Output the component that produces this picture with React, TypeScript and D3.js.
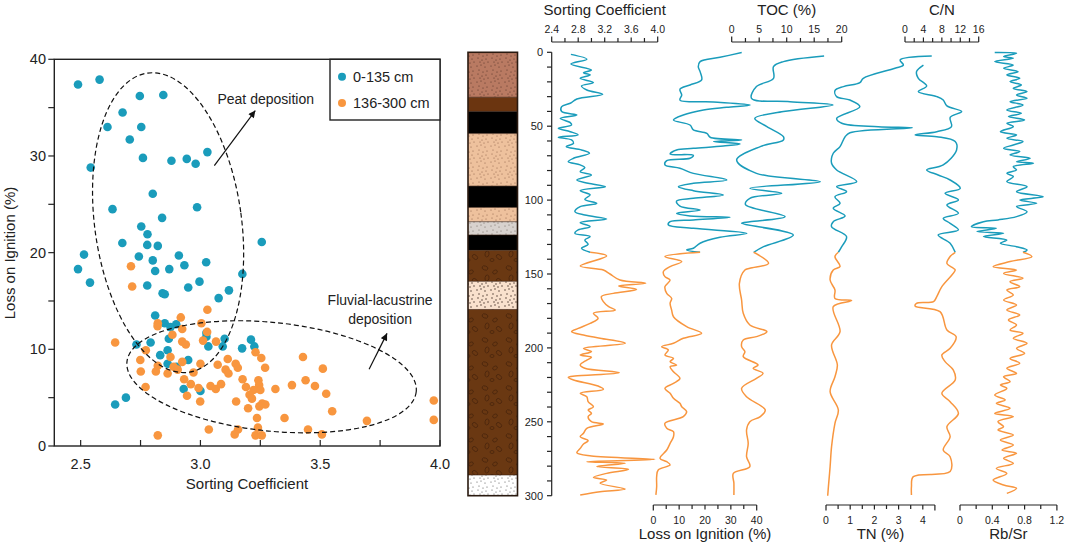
import React from 'react';
import * as d3 from 'd3';

type Pt = [number, number];

// scatter: [sorting coefficient, loss on ignition %]
const upperSamples: Pt[] = [
  [2.489, 37.4], [2.579, 37.9], [2.747, 36.2], [2.845, 36.3], [2.675, 34.5], [2.612, 33.0],
  [2.753, 33.0], [2.705, 31.7], [2.542, 28.8], [2.76, 29.8], [2.879, 29.5], [2.943, 29.7],
  [2.98, 29.2], [3.029, 30.4], [2.801, 26.1], [2.633, 24.5], [2.986, 24.7], [2.84, 23.6],
  [2.753, 22.7], [2.779, 21.9], [3.256, 21.1], [2.674, 21.0], [2.778, 20.8], [2.822, 20.7],
  [2.514, 19.8], [2.743, 19.6], [2.91, 19.7], [2.801, 19.2], [3.024, 19.0], [2.933, 18.7],
  [2.489, 18.3], [2.87, 18.3], [2.811, 18.1], [3.175, 17.8], [2.539, 16.9], [2.996, 17.0],
  [2.778, 16.6], [2.949, 16.4], [3.119, 16.1], [2.842, 15.8], [2.851, 15.7], [3.076, 15.3],
  [2.811, 13.5], [2.851, 12.7], [2.899, 12.6], [2.875, 12.3], [3.025, 11.7], [3.025, 11.3],
  [2.868, 11.1], [3.101, 11.1], [3.211, 11.0], [2.792, 10.7], [2.733, 10.5], [3.033, 10.3],
  [3.093, 10.3], [3.225, 10.3], [3.174, 10.1], [2.863, 9.9], [2.832, 9.4], [2.863, 8.5],
  [2.9, 8.2], [2.949, 8.9], [2.93, 5.9], [3.0, 5.7], [2.644, 4.3], [2.689, 5.0],
];

const lowerSamples: Pt[] = [
  [2.71, 18.6], [2.715, 16.5], [3.029, 14.1], [2.918, 13.3], [2.822, 12.7], [2.821, 12.4],
  [3.004, 12.7], [2.924, 12.1], [3.028, 11.8], [2.883, 11.5], [3.011, 10.9], [3.065, 10.8],
  [2.924, 10.8], [2.939, 10.5], [2.644, 10.7], [2.772, 9.9], [3.23, 9.7], [2.875, 9.2],
  [2.749, 8.9], [3.114, 9.0], [3.254, 9.1], [3.428, 9.2], [2.924, 8.7], [2.822, 8.3],
  [3.0, 8.5], [3.072, 8.4], [3.147, 8.5], [3.156, 8.1], [3.27, 8.1], [3.511, 8.0],
  [2.888, 8.2], [2.905, 7.9], [2.751, 7.7], [2.814, 7.7], [2.863, 7.5], [2.971, 7.6],
  [3.105, 7.9], [3.117, 7.5], [2.932, 6.9], [3.176, 6.9], [3.242, 6.8], [3.439, 6.8],
  [2.96, 6.4], [3.19, 6.1], [3.245, 6.3], [3.042, 6.2], [3.064, 5.9], [3.086, 6.4],
  [3.222, 5.8], [3.25, 5.8], [3.313, 5.9], [3.382, 6.3], [3.478, 6.2], [3.525, 5.4],
  [2.771, 6.1], [2.992, 6.0], [2.944, 5.2], [3.205, 5.3], [3.215, 4.9], [2.999, 4.6],
  [3.149, 4.6], [3.258, 4.4], [3.271, 4.3], [3.246, 4.1], [3.199, 3.9], [3.55, 3.6],
  [3.236, 2.9], [3.351, 2.9], [3.695, 2.6], [3.974, 4.7], [3.974, 2.7], [3.24, 1.9],
  [3.157, 1.7], [3.035, 1.7], [3.449, 1.7], [3.143, 1.2], [3.23, 1.1], [3.256, 1.1],
  [3.507, 1.2], [2.822, 1.1],
];

const scatterXTicks = [2.5, 3.0, 3.5, 4.0];
const scatterYTicks = [0, 10, 20, 30, 40];
const legendLabels = ['0-135 cm', '136-300 cm'];

// depth profiles: [depth cm, value]
const sortingProfile: Pt[] = [
  [1.4, 2.69], [4.7, 2.93], [7.9, 2.69], [12.0, 3.0], [13.8, 2.88], [15.3, 2.98], [17.6, 2.83],
  [20.5, 3.03], [22.8, 2.85], [25.5, 2.93], [28.4, 3.17], [31.6, 2.78], [34.5, 2.68], [36.8, 2.55],
  [40.1, 2.55], [42.4, 2.78], [44.7, 2.53], [47.6, 2.68], [49.2, 2.7], [51.4, 2.5], [53.7, 2.68],
  [55.9, 2.8], [57.5, 2.5], [59.3, 2.7], [61.6, 2.73], [63.8, 2.62], [66.1, 2.85], [68.3, 2.97],
  [71.7, 2.73], [74.0, 2.65], [76.2, 2.83], [78.0, 2.9], [80.7, 2.83], [83.0, 3.0], [86.4, 2.78],
  [88.6, 2.95], [90.9, 3.21], [93.6, 2.83], [96.5, 2.98], [99.5, 2.9], [102.2, 3.08], [104.4, 2.83],
  [107.8, 2.75], [110.1, 2.9], [112.8, 3.23], [115.2, 2.83], [118.0, 2.98], [120.2, 2.8],
  [122.5, 2.75], [124.7, 2.98], [127.0, 2.9], [129.9, 2.95], [132.6, 2.85], [135.3, 2.98],
  [137.8, 3.23], [144.6, 2.83], [147.3, 3.18], [150.0, 3.28], [154.1, 3.43], [156.3, 3.82],
  [158.1, 3.41], [160.4, 3.68], [163.1, 3.33], [165.3, 3.15], [168.7, 3.18], [172.1, 3.26],
  [174.4, 3.36], [176.6, 3.03], [180.0, 3.1], [183.4, 2.98], [186.8, 2.8], [189.0, 2.7],
  [191.3, 2.88], [193.5, 3.13], [196.9, 3.51], [200.3, 2.88], [202.5, 3.0], [204.8, 2.83],
  [206.4, 3.0], [208.2, 2.93], [211.6, 2.83], [213.8, 2.9], [216.8, 3.42], [219.0, 2.75],
  [219.9, 2.65], [221.7, 2.73], [225.8, 3.1], [228.0, 3.18], [230.7, 2.83], [233.0, 2.93],
  [236.4, 2.95], [239.8, 3.03], [242.0, 2.95], [244.3, 3.0], [246.5, 2.95], [249.9, 3.0],
  [251.5, 3.18], [254.4, 2.93], [257.8, 2.88], [260.1, 2.83], [262.8, 2.95], [265.0, 2.88],
  [268.0, 2.83], [270.9, 2.78], [273.1, 3.0], [275.4, 3.96], [277.0, 2.93], [278.1, 3.51],
  [280.3, 3.08], [282.1, 3.56], [284.9, 3.23], [287.6, 3.03], [289.4, 3.23], [291.6, 3.13],
  [295.5, 3.51], [297.3, 3.13], [299.5, 2.83],
];

const loiProfile: Pt[] = [
  [0.2, 34.2], [3.4, 25.8], [6.3, 18.1], [9.7, 17.4], [13.1, 18.1], [18.7, 18.7], [22.1, 14.2],
  [25.0, 10.3], [28.9, 11.0], [32.3, 10.3], [33.6, 23.3], [35.6, 37.5], [37.2, 28.4], [39.0, 19.4],
  [42.4, 11.6], [45.8, 7.8], [49.2, 14.2], [52.5, 15.5], [54.8, 20.7], [57.5, 22.0], [59.3, 34.2],
  [60.4, 23.3], [62.0, 33.6], [63.4, 27.1], [65.0, 15.5], [66.1, 9.0], [68.8, 6.5], [69.7, 15.5],
  [71.7, 14.2], [73.3, 5.2], [76.2, 4.5], [78.5, 10.3], [81.9, 15.5], [86.4, 28.4], [88.6, 15.5],
  [90.9, 9.7], [93.6, 15.5], [96.5, 27.1], [98.8, 15.5], [100.6, 9.0], [104.0, 10.3], [106.7, 18.1],
  [108.9, 9.0], [110.7, 14.2], [111.6, 29.7], [113.4, 15.5], [114.6, 6.5], [116.8, 5.8],
  [119.1, 15.5], [122.5, 36.2], [125.2, 25.8], [129.2, 18.1], [132.6, 15.5], [133.7, 12.9],
  [135.3, 18.1], [138.2, 4.5], [141.6, 11.0], [145.0, 6.5], [148.4, 3.9], [151.8, 4.5],
  [154.1, 6.5], [158.6, 4.5], [163.1, 5.2], [166.5, 7.1], [169.8, 6.5], [174.4, 7.1], [178.9, 7.8],
  [185.6, 12.9], [190.1, 18.7], [193.5, 11.6], [196.9, 7.8], [199.2, 3.2], [201.4, 5.8],
  [204.8, 4.5], [207.1, 7.8], [209.3, 6.5], [211.6, 9.0], [212.7, 6.5], [216.1, 7.8], [220.6, 10.3],
  [224.0, 7.8], [227.4, 4.5], [230.7, 6.5], [234.1, 7.8], [237.5, 10.3], [239.8, 11.0],
  [243.1, 12.9], [246.5, 11.6], [251.0, 4.5], [254.4, 5.2], [256.7, 7.8], [260.1, 7.8],
  [264.6, 6.5], [269.1, 5.2], [274.7, 2.6], [277.0, 5.2], [279.2, 6.5], [282.6, 1.9], [287.1, 1.3],
  [293.9, 1.3], [299.5, 1.0],
];

const tocProfile: Pt[] = [
  [2.5, 16.8], [6.3, 9.4], [9.7, 7.6], [17.6, 7.6], [23.2, 4.5], [31.1, 3.6], [33.4, 10.6],
  [35.6, 18.4], [40.1, 9.4], [44.7, 4.2], [50.3, 6.4], [57.1, 9.4], [59.3, 9.4], [63.8, 5.2],
  [72.8, 0.9], [81.9, 4.5], [87.5, 16.1], [92.0, 3.3], [95.4, 9.1], [98.8, 3.3], [103.0, 2.5],
  [111.2, 9.7], [114.6, 3.3], [115.7, 1.8], [123.6, 11.2], [131.5, 5.8], [135.3, 4.0],
  [142.8, 6.7], [146.1, 3.3], [147.3, 2.4], [156.3, 1.4], [167.6, 1.8], [176.6, 2.1],
  [184.5, 3.3], [189.0, 6.4], [192.4, 4.5], [194.7, 2.1], [199.2, 1.8], [202.5, 2.4],
  [205.9, 2.1], [211.6, 4.8], [213.8, 3.9], [217.2, 5.7], [220.6, 4.5], [227.4, 1.8],
  [233.0, 2.7], [242.0, 6.1], [246.5, 5.2], [249.9, 3.3], [255.5, 2.7], [264.6, 3.0],
  [273.6, 2.7], [280.3, 3.3], [284.9, 0.3], [291.6, 0.4], [299.5, 0.4],
];

const tnProfile: Pt[] = [
  [2.5, 4.37], [5.2, 3.06], [8.6, 3.2], [10.8, 2.85], [17.6, 1.54], [20.5, 1.4], [23.2, 0.72],
  [25.9, 0.37], [30.0, 0.44], [32.3, 0.99], [36.8, 1.4], [44.7, 0.44], [48.0, 0.65], [50.3, 2.16],
  [51.0, 3.57], [54.4, 0.99], [57.1, 0.79], [63.8, 0.58], [68.3, 0.3], [75.1, 0.23], [79.6, 0.44],
  [87.5, 1.27], [90.9, 0.44], [94.3, 0.85], [97.7, 0.37], [102.2, 0.58], [105.5, 0.3],
  [110.7, 0.79], [114.6, 0.3], [118.0, 0.23], [124.7, 0.85], [131.5, 0.65], [135.3, 0.51],
  [138.2, 0.37], [145.0, 0.58], [147.3, 0.3], [154.1, 0.17], [160.8, 0.37], [166.5, 0.37],
  [168.0, 1.06], [172.1, 0.3], [189.0, 0.58], [198.0, 0.23], [211.6, 0.47], [219.5, 0.37],
  [229.6, 0.17], [242.0, 0.51], [251.0, 0.37], [266.8, 0.23], [280.3, 0.17], [293.9, 0.1],
  [300.0, 0.07],
];

const cnProfile: Pt[] = [
  [8.6, 4.0], [13.1, 2.5], [17.6, 2.9], [22.8, 4.7], [26.6, 2.9], [30.0, 6.9], [32.3, 8.3],
  [36.3, 9.1], [40.1, 12.3], [44.0, 9.8], [50.3, 10.1], [53.7, 6.9], [55.9, 2.2], [57.1, 6.9],
  [60.4, 10.9], [66.1, 11.2], [76.2, 8.3], [79.6, 4.7], [83.0, 7.2], [86.4, 9.8], [92.0, 12.0],
  [95.4, 8.7], [99.9, 11.6], [103.3, 9.1], [108.9, 11.6], [112.3, 8.3], [115.7, 9.8],
  [120.2, 11.6], [123.6, 7.2], [129.2, 9.8], [135.3, 10.9], [138.2, 9.8], [142.8, 9.1],
  [146.1, 10.5], [147.3, 10.9], [158.6, 8.0], [165.3, 6.9], [168.7, 6.2], [169.8, 2.5],
  [171.7, 2.2], [175.5, 7.6], [187.9, 9.1], [192.4, 11.1], [200.3, 9.8], [204.8, 8.0],
  [209.3, 8.7], [215.0, 10.5], [221.7, 10.9], [230.7, 8.0], [236.4, 9.8], [244.3, 11.6],
  [253.3, 9.1], [260.1, 9.8], [269.1, 8.3], [273.6, 9.8], [283.7, 9.8], [287.1, 1.8],
  [293.9, 1.4], [299.5, 1.4],
];

const rbsrProfile: Pt[] = [
  [0.2, 0.43], [0.7, 0.7], [2.9, 0.54], [4.1, 0.66], [6.3, 0.43], [8.6, 0.66], [10.8, 0.54],
  [13.1, 0.72], [15.3, 0.58], [17.6, 0.74], [19.8, 0.62], [22.1, 0.76], [24.4, 0.66], [26.6, 0.83],
  [28.9, 0.7], [31.1, 0.83], [33.4, 0.62], [35.6, 0.78], [39.0, 0.58], [41.3, 0.76], [43.5, 0.6],
  [45.8, 0.8], [48.0, 0.58], [50.3, 0.66], [53.7, 0.5], [55.9, 0.7], [58.2, 0.58], [60.4, 0.78],
  [62.7, 0.66], [65.0, 0.54], [67.2, 0.74], [69.5, 0.62], [71.7, 0.87], [74.0, 0.7], [75.1, 0.91],
  [77.4, 0.66], [79.6, 0.7], [81.9, 0.58], [84.1, 0.66], [87.5, 0.58], [90.9, 0.83], [94.3, 0.7],
  [97.7, 1.03], [99.9, 0.74], [102.2, 0.95], [104.4, 0.7], [107.8, 0.83], [111.2, 0.7],
  [113.4, 0.47], [114.6, 0.29], [118.0, 0.14], [119.1, 0.45], [121.3, 0.21], [122.5, 0.54],
  [124.7, 0.29], [127.0, 0.58], [129.2, 0.5], [131.5, 0.7], [133.7, 0.83], [135.3, 0.78],
  [138.2, 0.89], [141.6, 0.62], [145.0, 0.41], [147.3, 0.7], [149.6, 0.54], [152.9, 0.78],
  [155.2, 0.62], [158.6, 0.74], [160.8, 0.58], [164.2, 0.66], [167.6, 0.54], [171.0, 0.7],
  [174.4, 0.58], [177.7, 0.74], [181.1, 0.6], [184.5, 0.7], [187.9, 0.62], [190.1, 0.78],
  [193.5, 0.66], [196.9, 0.83], [200.3, 0.7], [203.7, 0.8], [207.1, 0.62], [210.4, 0.74],
  [213.8, 0.58], [217.2, 0.7], [219.5, 0.54], [222.8, 0.62], [225.1, 0.5], [227.4, 0.58],
  [231.9, 0.43], [235.2, 0.56], [237.5, 0.45], [240.9, 0.62], [244.3, 0.43], [246.5, 0.66],
  [249.9, 0.47], [253.3, 0.54], [255.5, 0.47], [258.9, 0.66], [262.3, 0.5], [265.7, 0.66],
  [269.1, 0.52], [271.3, 0.7], [274.7, 0.54], [278.1, 0.66], [281.5, 0.45], [284.9, 0.58],
  [289.4, 0.41], [292.8, 0.54], [295.0, 0.7], [298.4, 0.58],
];

// lithology: [top cm, bottom cm, fill]
const layers: [number, number, string][] = [
  [0, 30.4, 'url(#litho-silt)'],
  [30.4, 40, '#6b3510'],
  [40, 55, '#000'],
  [55, 90.5, 'url(#litho-sand)'],
  [90.5, 105, '#000'],
  [105, 114.6, 'url(#litho-sand)'],
  [114.6, 123.6, 'url(#litho-grey)'],
  [123.6, 134, '#000'],
  [134, 155, 'url(#litho-gravel)'],
  [155, 174, 'url(#litho-pale)'],
  [174, 286, 'url(#litho-gravel)'],
  [286, 300, 'url(#litho-white)'],
];

const depthTicks = d3.range(0, 301, 10);
const depthLabels = [0, 50, 100, 150, 200, 250, 300];
const boundaryDepth = 135.3;

const TEAL = '#1a9cbb';
const ORANGE = '#f8963f';
const FONT = '"Liberation Sans", Arial, sans-serif';

const dotSpots = [
  [1, 2], [5, 1], [9, 3], [3, 6], [7, 8], [11, 7], [2, 10], [6, 12], [10, 11], [4, 14], [8, 15], [12, 14],
];
const pebbleSpots = [
  [5, 4, 3, 2, 20], [15, 8, 2.5, 1.8, -30], [7, 14, 2, 3, 10], [19, 17, 3, 2, 40], [12, 20, 2, 1.5, 0],
];

const DotPattern = ({ id, bg, dot, r = 0.55 }: { id: string; bg: string; dot: string; r?: number }) => (
  <pattern id={id} width={14} height={16} patternUnits="userSpaceOnUse">
    <rect width={14} height={16} fill={bg} />
    {dotSpots.map(([cx, cy], i) => (
      <circle key={i} cx={cx} cy={cy} r={r} fill={dot} />
    ))}
  </pattern>
);

interface AxisProps {
  scale: d3.ScaleLinear<number, number>;
  step: number;
  labels: number[];
  title: string;
  fmt: (v: number) => string;
  side: 'top' | 'bottom';
}

const ProfileAxis: React.FC<AxisProps> = ({ scale, step, labels, title, fmt, side }) => {
  const [d0, d1] = scale.domain();
  const ticks = d3.range(d0, d1 + step / 2, step);
  const top = side === 'top';
  const yLine = top ? 42 : 505;
  const dir = top ? -1 : 1;
  const [r0, r1] = scale.range();
  return (
    <g fontFamily={FONT} fill="#222">
      <line x1={r0} x2={r1} y1={yLine} y2={yLine} stroke="#222" strokeWidth={1.2} />
      {ticks.map((t, i) => {
        const major = labels.some(l => Math.abs(l - t) < 1e-6);
        const len = i === 0 || i === ticks.length - 1 ? 5.5 : major ? 4.5 : 4;
        return (
          <line key={i} x1={scale(t)} x2={scale(t)} y1={yLine} y2={yLine + dir * len} stroke="#222" strokeWidth={1.2} />
        );
      })}
      {labels.map(l => (
        <text key={l} x={scale(l)} y={top ? 33 : 523.5} textAnchor="middle" fontSize={10.5}>
          {fmt(l)}
        </text>
      ))}
      <text x={(r0 + r1) / 2} y={top ? 14.5 : 539} textAnchor="middle" fontSize={15}>
        {title}
      </text>
    </g>
  );
};

export default function App() {
  // scatter panel
  const x = d3.scaleLinear().domain([2.39, 4.0]).range([54.3, 440]);
  const y = d3.scaleLinear().domain([0, 40]).range([446, 59.3]);

  // depth panel
  const depth = d3.scaleLinear().domain([0, 300]).range([52.3, 495.7]);
  const sortX = d3.scaleLinear().domain([2.4, 4.0]).range([551.7, 657.7]);
  const loiX = d3.scaleLinear().domain([0, 40]).range([653.3, 756.7]);
  const tocX = d3.scaleLinear().domain([0, 20]).range([731.7, 841.7]);
  const tnX = d3.scaleLinear().domain([0, 4.5]).range([826, 934.9]);
  const cnX = d3.scaleLinear().domain([0, 16]).range([905, 978.7]);
  const rbX = d3.scaleLinear().domain([0, 1.2]).range([960, 1056.9]);

  const profiles: [Pt[], d3.ScaleLinear<number, number>][] = [
    [sortingProfile, sortX],
    [loiProfile, loiX],
    [tocProfile, tocX],
    [tnProfile, tnX],
    [cnProfile, cnX],
    [rbsrProfile, rbX],
  ];

  const pathFor = (pts: Pt[], sx: d3.ScaleLinear<number, number>) =>
    d3.line<Pt>()
      .x(d => sx(d[1]))
      .y(d => depth(d[0]))
      .curve(d3.curveCatmullRom.alpha(0.5))(pts) || '';

  const fmt1 = (v: number) => v.toFixed(1);
  const fmt0 = (v: number) => String(v);

  const ellipses = [
    { cx: 2.865, cy: 23.1, rx: 73.4, ry: 151, rot: -7.8 },
    { cx: 3.297, cy: 7.16, rx: 145.4, ry: 54.3, rot: 5.9 },
  ];
  const arrows = [
    { from: [3.058, 29.0], to: [3.229, 34.7] },
    { from: [3.704, 7.93], to: [3.779, 11.65] },
  ];

  return (
    <div style={{ position: 'absolute', left: 0, top: 0 }}>
      <svg width={1065} height={543} style={{ display: 'block', background: '#fff' }}>
        <defs>
          <marker id="arrowhead" viewBox="0 0 10 10" refX={10} refY={5} markerWidth={9} markerHeight={7}
            markerUnits="userSpaceOnUse" orient="auto">
            <path d="M0,0 L10,5 L0,10 z" fill="#111" />
          </marker>
          <DotPattern id="litho-silt" bg="#b97a62" dot="#4e2c22" />
          <DotPattern id="litho-sand" bg="#eec19d" dot="#8b5f45" />
          <DotPattern id="litho-pale" bg="#f9e1cd" dot="#3d2a20" r={0.7} />
          <DotPattern id="litho-grey" bg="#d8d2ce" dot="#6d625c" />
          <DotPattern id="litho-white" bg="#ffffff" dot="#555" r={0.6} />
          <pattern id="litho-gravel" width={24} height={24} patternUnits="userSpaceOnUse">
            <rect width={24} height={24} fill="#6a3812" />
            {pebbleSpots.map(([cx, cy, rx, ry, a], i) => (
              <ellipse key={i} cx={cx} cy={cy} rx={rx} ry={ry} transform={`rotate(${a} ${cx} ${cy})`}
                fill="none" stroke="#48230a" strokeWidth={0.8} />
            ))}
          </pattern>
        </defs>

        {/* ---- scatter panel ---- */}
        <g fontFamily={FONT} fill="#222">
          {upperSamples.map((d, i) => (
            <circle key={`u${i}`} cx={x(d[0])} cy={y(d[1])} r={4.3} fill={TEAL} />
          ))}
          {lowerSamples.map((d, i) => (
            <circle key={`l${i}`} cx={x(d[0])} cy={y(d[1])} r={4.3} fill={ORANGE} />
          ))}

          {ellipses.map((e, i) => (
            <ellipse key={i} rx={e.rx} ry={e.ry}
              transform={`translate(${x(e.cx)},${y(e.cy)}) rotate(${e.rot})`}
              fill="none" stroke="#111" strokeWidth={1.2} strokeDasharray="5,3" />
          ))}
          {arrows.map((a, i) => (
            <line key={i} x1={x(a.from[0])} y1={y(a.from[1])} x2={x(a.to[0])} y2={y(a.to[1])}
              stroke="#111" strokeWidth={1.2} markerEnd="url(#arrowhead)" />
          ))}
          <text x={x(3.071)} y={y(35.4)} fontSize={14}>Peat deposition</text>
          <text x={x(3.75)} y={y(14.57)} fontSize={14} textAnchor="middle">Fluvial-lacustrine</text>
          <text x={x(3.75)} y={y(12.66)} fontSize={14} textAnchor="middle">deposition</text>

          <rect x={54.3} y={59.3} width={440 - 54.3} height={446 - 59.3} fill="none" stroke="#222" strokeWidth={1.4} />

          {d3.range(0, 40.1, 5).map(t => (
            <line key={t} x1={54.3} x2={48.3} y1={y(t)} y2={y(t)} stroke="#222" strokeWidth={1.2} />
          ))}
          {scatterYTicks.map(t => (
            <text key={t} x={46} y={y(t)} dy="0.35em" textAnchor="end" fontSize={14.5}>{t}</text>
          ))}
          {d3.range(2.5, 4.01, 0.25).map(t => (
            <line key={t} x1={x(t)} x2={x(t)} y1={446} y2={440} stroke="#222" strokeWidth={1.2} />
          ))}
          {scatterXTicks.map(t => (
            <text key={t} x={x(t)} y={469} textAnchor="middle" fontSize={14.5}>{t.toFixed(1)}</text>
          ))}
          <text x={247} y={489} textAnchor="middle" fontSize={15}>Sorting Coefficient</text>
          <text transform="translate(15,253) rotate(-90)" textAnchor="middle" fontSize={15}>
            Loss on Ignition (%)
          </text>

          <rect x={330} y={59.3} width={110} height={60.7} fill="#fff" stroke="#222" strokeWidth={1.4} />
          {legendLabels.map((l, i) => (
            <g key={l}>
              <circle cx={342} cy={76.7 + i * 26.3} r={4} fill={i === 0 ? TEAL : ORANGE} />
              <text x={353} y={76.7 + i * 26.3} dy="0.36em" fontSize={14.5}>{l}</text>
            </g>
          ))}
        </g>

        {/* ---- lithology column ---- */}
        <g>
          {layers.map(([t, b, fill], i) => (
            <rect key={i} x={468} y={depth(t)} width={49.5} height={depth(b) - depth(t)} fill={fill} />
          ))}
          {layers.slice(1).map(([t], i) => (
            <line key={i} x1={468} x2={517.5} y1={depth(t)} y2={depth(t)} stroke="#3a2010" strokeWidth={0.6} />
          ))}
          <rect x={468} y={depth(0)} width={49.5} height={depth(300) - depth(0)} fill="none" stroke="#2a1a10" strokeWidth={1.6} />
        </g>

        {/* ---- depth axis ---- */}
        <g fontFamily={FONT} fill="#222">
          <line x1={551.7} x2={551.7} y1={depth(0)} y2={depth(300)} stroke="#222" strokeWidth={1.2} />
          {depthTicks.map(t => (
            <line key={t} x1={551.7} x2={547} y1={depth(t)} y2={depth(t)} stroke="#222" strokeWidth={1.2} />
          ))}
          {depthLabels.map(t => (
            <text key={t} x={543} y={depth(t)} dy="0.35em" textAnchor="end" fontSize={11}>{t}</text>
          ))}
        </g>

        {/* ---- profiles ---- */}
        {profiles.map(([pts, sx], i) => (
          <g key={i} fill="none" strokeWidth={1.5} strokeLinejoin="round">
            <path d={pathFor(pts.filter(d => d[0] <= boundaryDepth), sx)} stroke={TEAL} />
            <path d={pathFor(pts.filter(d => d[0] >= boundaryDepth), sx)} stroke={ORANGE} />
          </g>
        ))}

        <ProfileAxis scale={sortX} step={0.2} labels={[2.4, 2.8, 3.2, 3.6, 4.0]} title="Sorting Coefficient" fmt={fmt1} side="top" />
        <ProfileAxis scale={tocX} step={2.5} labels={[0, 5, 10, 15, 20]} title="TOC (%)" fmt={fmt0} side="top" />
        <ProfileAxis scale={cnX} step={2} labels={[0, 4, 8, 12, 16]} title="C/N" fmt={fmt0} side="top" />
        <ProfileAxis scale={loiX} step={5} labels={[0, 10, 20, 30, 40]} title="Loss on Ignition (%)" fmt={fmt0} side="bottom" />
        <ProfileAxis scale={tnX} step={0.5} labels={[0, 1, 2, 3, 4]} title="TN (%)" fmt={fmt0} side="bottom" />
        <ProfileAxis scale={rbX} step={0.2} labels={[0, 0.4, 0.8, 1.2]} title="Rb/Sr" fmt={fmt0} side="bottom" />
      </svg>
    </div>
  );
}
